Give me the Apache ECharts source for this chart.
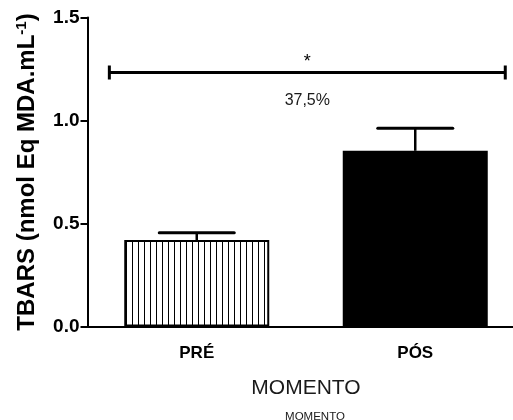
<!DOCTYPE html>
<html>
<head>
<meta charset="utf-8">
<script src="https://cdn.jsdelivr.net/npm/echarts@6/dist/echarts.min.js"></script>
<style>html,body{margin:0;padding:0;background:#fff;}#c{width:513px;height:420px;}</style>
</head>
<body>
<div id="c"></div>
<script>
const categories = ['PRÉ', 'PÓS'];
const means = [0.42, 0.853];
const upperErr = [0.455, 0.962];
const sigLevel = [1.233];
const sigStar = '*';
const sigText = '37,5%';
const yTicks = [0, 0.5, 1.0, 1.5];

const pat = document.createElement('canvas');
pat.width = 6; pat.height = 8;
const pc = pat.getContext('2d');
pc.fillStyle = '#fff'; pc.fillRect(0, 0, 6, 8);
pc.fillStyle = '#000'; pc.fillRect(0, 0, 1, 8);

const FONT = '"Liberation Sans", Arial, sans-serif';
const chart = echarts.init(document.getElementById('c'), null, {renderer: 'canvas'});
chart.setOption({
  animation: false,
  backgroundColor: '#fff',
  textStyle: {fontFamily: FONT},
  title: {
    text: 'MOMENTO', left: 310, top: 406, textAlign: 'center',
    textStyle: {fontFamily: FONT, fontSize: 11.5, fontWeight: 'normal', color: '#1a1a1a'}
  },
  grid: {left: 87.5, top: 17.5, width: 437, height: 309, outerBoundsMode: 'none', containLabel: false},
  xAxis: {
    type: 'category', data: categories,
    axisLine: {lineStyle: {color: '#000', width: 2}},
    axisTick: {alignWithLabel: true, length: 6, lineStyle: {color: '#000', width: 2}},
    axisLabel: {color: '#000', fontWeight: 'bold', fontSize: 17, margin: 18, fontFamily: FONT},
    name: 'MOMENTO', nameLocation: 'middle', nameGap: 51,
    nameTextStyle: {fontSize: 21, color: '#1a1a1a', fontFamily: FONT}
  },
  yAxis: {
    type: 'value', min: yTicks[0], max: yTicks[yTicks.length - 1], interval: 0.5,
    splitLine: {show: false},
    axisLine: {show: true, lineStyle: {color: '#000', width: 2}},
    axisTick: {show: true, length: 7, lineStyle: {color: '#000', width: 2}},
    axisLabel: {color: '#000', fontWeight: 'bold', fontSize: 19, margin: 8, fontFamily: FONT,
      formatter: v => v.toFixed(1)},
    name: '{a|TBARS (nmol Eq MDA.mL}{s|-1}{a|)}',
    nameLocation: 'middle', nameRotate: 90, nameGap: 47,
    nameTextStyle: {
      rich: {
        a: {fontSize: 24, fontWeight: 'bold', color: '#000', fontFamily: FONT, lineHeight: 26},
        s: {fontSize: 15, fontWeight: 'bold', color: '#000', fontFamily: FONT, verticalAlign: 'top', lineHeight: 26, padding: [0, 0, 10, 0]}
      }
    }
  },
  series: [
    {
      type: 'bar', barWidth: 145,
      data: [
        {value: means[0], itemStyle: {color: {image: pat, repeat: 'repeat'}, borderColor: '#000', borderWidth: 2}},
        {value: means[1], itemStyle: {color: '#000', borderColor: '#000', borderWidth: 2}}
      ],
      z: 2
    },
    {
      type: 'custom',
      data: means.map((m, i) => [i, m, upperErr[i]]),
      renderItem: function (params, api) {
        const i = api.value(0);
        const b = api.coord([i, api.value(1)]);
        const t = api.coord([i, api.value(2)]);
        const hw = 37.5;
        return {
          type: 'group',
          children: [
            {type: 'line', shape: {x1: b[0], y1: b[1], x2: t[0], y2: t[1]}, style: {stroke: '#000', lineWidth: 2.5}},
            {type: 'line', shape: {x1: t[0] - hw, y1: t[1], x2: t[0] + hw, y2: t[1]}, style: {stroke: '#000', lineWidth: 3, lineCap: 'round'}}
          ]
        };
      },
      z: 3
    },
    {
      type: 'custom',
      data: sigLevel.map(v => [0, v]),
      renderItem: function (params, api) {
        const y = api.value(1);
        const p0 = api.coord([0, y]);
        const p1 = api.coord([1, y]);
        const d = p1[0] - p0[0];
        const xl = p0[0] - d * 0.40;
        const xr = p1[0] + d * 0.412;
        const xc = (xl + xr) / 2;
        const yy = p0[1];
        return {
          type: 'group',
          children: [
            {type: 'line', shape: {x1: xl, y1: yy, x2: xr, y2: yy}, style: {stroke: '#000', lineWidth: 3}},
            {type: 'line', shape: {x1: xl, y1: yy - 7, x2: xl, y2: yy + 7}, style: {stroke: '#000', lineWidth: 3}},
            {type: 'line', shape: {x1: xr, y1: yy - 7, x2: xr, y2: yy + 7}, style: {stroke: '#000', lineWidth: 3}},
            {type: 'text', x: xc, y: yy - 19, style: {text: sigStar, font: '18px ' + FONT, fill: '#000', textAlign: 'center', textVerticalAlign: 'top'}},
            {type: 'text', x: xc, y: yy + 28, style: {text: sigText, font: '16px ' + FONT, fill: '#1a1a1a', textAlign: 'center', textVerticalAlign: 'middle'}}
          ]
        };
      },
      z: 3
    }
  ]
});
</script>
</body>
</html>
